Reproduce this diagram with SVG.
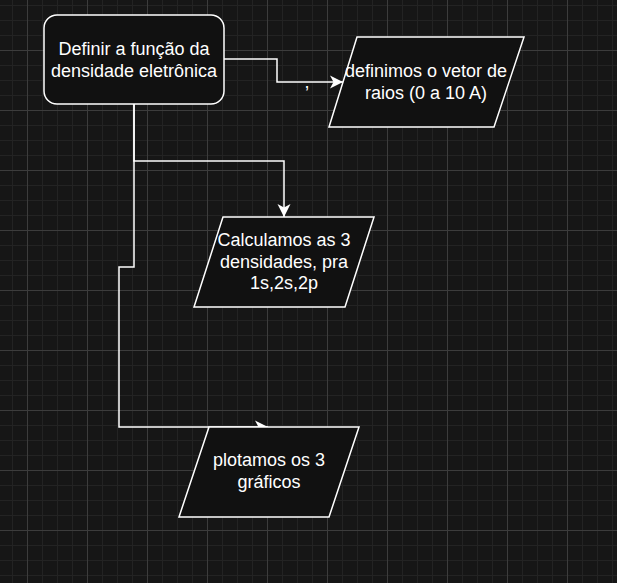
<svg xmlns="http://www.w3.org/2000/svg" width="617" height="583" viewBox="0 0 617 583">
  <defs>
    <pattern id="grid" patternUnits="userSpaceOnUse" x="27" y="50" width="60" height="60">
      <rect width="60" height="60" fill="#161616"/>
      <g fill="#232323">
        <rect x="15" y="0" width="1" height="60"/>
        <rect x="30" y="0" width="1" height="60"/>
        <rect x="45" y="0" width="1" height="60"/>
        <rect x="0" y="15" width="60" height="1"/>
        <rect x="0" y="30" width="60" height="1"/>
        <rect x="0" y="45" width="60" height="1"/>
      </g>
      <g fill="#3c3c3c">
        <rect x="0" y="0" width="1" height="60"/>
        <rect x="0" y="0" width="60" height="1"/>
      </g>
    </pattern>
    <marker id="arrow" viewBox="0 0 14 14" refX="13" refY="7" markerWidth="14" markerHeight="14" markerUnits="userSpaceOnUse" orient="auto">
      <path d="M0,0.5 L13,7 L0,13.5 L3.5,7 Z" fill="#ffffff"/>
    </marker>
    <style>
      .edge { fill: none; stroke: #ffffff; stroke-width: 1.5; }
      .node { fill: #111111; stroke: #ffffff; stroke-width: 1.5; }
      .label { fill: #ffffff; font-family: "Liberation Sans", Arial, sans-serif; font-size: 18px; text-anchor: middle; }
    </style>
  </defs>
  <rect width="617" height="583" fill="url(#grid)"/>

  <g id="connectors">
    <path class="edge" d="M224,59 H277 V82 H343" marker-end="url(#arrow)"/>
    <path class="edge" d="M134,104 V161 H284 V217" marker-end="url(#arrow)"/>
    <path class="edge" d="M134,104 V267 H119 V427 H268" marker-end="url(#arrow)"/>
    <text class="label" x="307" y="88">,</text>
  </g>

  <g id="node-definir">
    <rect class="node" x="44" y="15" width="180" height="89" rx="13" ry="13"/>
    <text class="label" x="134" y="55">Definir a função da</text>
    <text class="label" x="134" y="77">densidade eletrônica</text>
  </g>

  <g id="node-vetor">
    <polygon class="node" points="357,37 524,37 494,127 329,127"/>
    <text class="label" x="426" y="77">definimos o vetor de</text>
    <text class="label" x="426" y="99">raios (0 a 10 A)</text>
  </g>

  <g id="node-calculamos">
    <polygon class="node" points="223,217 374,217 345,307 194,307"/>
    <text class="label" x="284" y="246">Calculamos as 3</text>
    <text class="label" x="284" y="268">densidades, pra</text>
    <text class="label" x="284" y="289">1s,2s,2p</text>
  </g>

  <g id="node-plotamos">
    <polygon class="node" points="209,427 359,427 329,517 179,517"/>
    <text class="label" x="269" y="466">plotamos os 3</text>
    <text class="label" x="269" y="488">gráficos</text>
  </g>
</svg>
